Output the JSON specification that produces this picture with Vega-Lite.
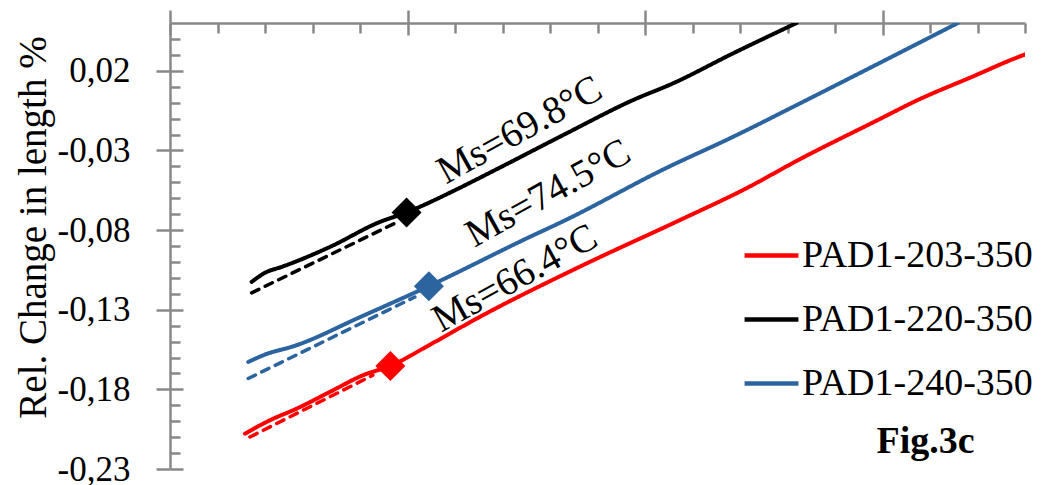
{
  "$schema": "https://vega.github.io/schema/vega-lite/v6.json",
  "width": 855,
  "height": 446,
  "autosize": {"type": "none"},
  "padding": {"left": 170, "top": 23, "right": 18, "bottom": 16},
  "background": "white",
  "config": {
    "font": "Liberation Serif",
    "view": {"stroke": null},
    "axis": {"domainColor": "#898989", "tickColor": "#898989", "domainWidth": 2.5, "tickWidth": 2.5, "grid": false}
  },
  "datasets": {
    "lines": [
      {"series": "PAD1-220-350", "kind": "solid", "t": 37.19, "v": -0.1125},
      {"series": "PAD1-220-350", "kind": "solid", "t": 40.35, "v": -0.1063},
      {"series": "PAD1-220-350", "kind": "solid", "t": 43.14, "v": -0.1035},
      {"series": "PAD1-220-350", "kind": "solid", "t": 53.66, "v": -0.0906},
      {"series": "PAD1-220-350", "kind": "solid", "t": 64.18, "v": -0.0749},
      {"series": "PAD1-220-350", "kind": "solid", "t": 69.8, "v": -0.069},
      {"series": "PAD1-220-350", "kind": "solid", "t": 72.6, "v": -0.0654},
      {"series": "PAD1-220-350", "kind": "solid", "t": 81.0, "v": -0.0535},
      {"series": "PAD1-220-350", "kind": "solid", "t": 89.43, "v": -0.0408},
      {"series": "PAD1-220-350", "kind": "solid", "t": 103.46, "v": -0.0193},
      {"series": "PAD1-220-350", "kind": "solid", "t": 117.47, "v": 0.0016},
      {"series": "PAD1-220-350", "kind": "solid", "t": 125.89, "v": 0.0121},
      {"series": "PAD1-220-350", "kind": "solid", "t": 138.51, "v": 0.0309},
      {"series": "PAD1-220-350", "kind": "solid", "t": 151.92, "v": 0.05},
      {"series": "PAD1-220-350", "kind": "dashed", "t": 37.19, "v": -0.1194},
      {"series": "PAD1-220-350", "kind": "dashed", "t": 67.5, "v": -0.0755},
      {"series": "PAD1-240-350", "kind": "solid", "t": 36.47, "v": -0.1628},
      {"series": "PAD1-240-350", "kind": "solid", "t": 39.63, "v": -0.1586},
      {"series": "PAD1-240-350", "kind": "solid", "t": 46.66, "v": -0.1523},
      {"series": "PAD1-240-350", "kind": "solid", "t": 59.97, "v": -0.1347},
      {"series": "PAD1-240-350", "kind": "solid", "t": 74.49, "v": -0.1152},
      {"series": "PAD1-240-350", "kind": "solid", "t": 95.74, "v": -0.0843},
      {"series": "PAD1-240-350", "kind": "solid", "t": 102.75, "v": -0.0745},
      {"series": "PAD1-240-350", "kind": "solid", "t": 124.5, "v": -0.0410},
      {"series": "PAD1-240-350", "kind": "solid", "t": 138.51, "v": -0.0215},
      {"series": "PAD1-240-350", "kind": "solid", "t": 152.93, "v": 0.0},
      {"series": "PAD1-240-350", "kind": "solid", "t": 169.0, "v": 0.0243},
      {"series": "PAD1-240-350", "kind": "solid", "t": 185.87, "v": 0.05},
      {"series": "PAD1-240-350", "kind": "dashed", "t": 36.47, "v": -0.1732},
      {"series": "PAD1-240-350", "kind": "dashed", "t": 71.55, "v": -0.122},
      {"series": "PAD1-203-350", "kind": "solid", "t": 35.78, "v": -0.2078},
      {"series": "PAD1-203-350", "kind": "solid", "t": 41.04, "v": -0.1994},
      {"series": "PAD1-203-350", "kind": "solid", "t": 46.66, "v": -0.1921},
      {"series": "PAD1-203-350", "kind": "solid", "t": 53.66, "v": -0.1816},
      {"series": "PAD1-203-350", "kind": "solid", "t": 60.67, "v": -0.1711},
      {"series": "PAD1-203-350", "kind": "solid", "t": 66.39, "v": -0.1653},
      {"series": "PAD1-203-350", "kind": "solid", "t": 74.7, "v": -0.1520},
      {"series": "PAD1-203-350", "kind": "solid", "t": 85.22, "v": -0.1345},
      {"series": "PAD1-203-350", "kind": "solid", "t": 106.26, "v": -0.1030},
      {"series": "PAD1-203-350", "kind": "solid", "t": 127.3, "v": -0.0738},
      {"series": "PAD1-203-350", "kind": "solid", "t": 140.87, "v": -0.0545},
      {"series": "PAD1-203-350", "kind": "solid", "t": 152.93, "v": -0.0350},
      {"series": "PAD1-203-350", "kind": "solid", "t": 168.96, "v": -0.0110},
      {"series": "PAD1-203-350", "kind": "solid", "t": 177.04, "v": 0.0011},
      {"series": "PAD1-203-350", "kind": "solid", "t": 189.07, "v": 0.0165},
      {"series": "PAD1-203-350", "kind": "solid", "t": 198.56, "v": 0.0286},
      {"series": "PAD1-203-350", "kind": "solid", "t": 200, "v": 0.0302},
      {"series": "PAD1-203-350", "kind": "dashed", "t": 36.83, "v": -0.2099},
      {"series": "PAD1-203-350", "kind": "dashed", "t": 62.71, "v": -0.1711}
    ],
    "markers": [
      {"series": "PAD1-203-350", "t": 66.4, "v": -0.1653},
      {"series": "PAD1-220-350", "t": 69.8, "v": -0.069},
      {"series": "PAD1-240-350", "t": 74.5, "v": -0.1152}
    ],
    "notes": [
      {"label": "Ms=69.8°C", "t": 93.6, "v": -0.0172},
      {"label": "Ms=74.5°C", "t": 99.6, "v": -0.0568},
      {"label": "Ms=66.4°C", "t": 92.6, "v": -0.1102}
    ],
    "fig": [
      {"label": "Fig.3c", "t": 179.06, "v": -0.2201}
    ]
  },
  "resolve": {"axis": {"x": "independent", "y": "independent"}, "legend": {"color": "independent"}},
  "layer": [
    {
      "data": {"name": "lines"},
      "mark": {"type": "line", "strokeCap": "round", "strokeJoin": "round", "clip": true, "interpolate": "monotone"},
      "encoding": {
        "x": {"field": "t", "type": "quantitative", "scale": {"domain": [20, 200], "nice": false, "zero": false},
              "axis": {"orient": "top", "values": [20, 70, 120, 170], "tickSize": 13, "labels": false, "title": null}},
        "y": {"field": "v", "type": "quantitative", "scale": {"domain": [-0.23, 0.05], "nice": false, "zero": false},
              "axis": {"orient": "left", "values": [-0.23, -0.18, -0.13, -0.08, -0.03, 0.02], "tickSize": 14,
                       "labelExpr": "(datum.value < 0 ? '-' : '') + replace(format(abs(datum.value), '.2f'), '.', ',')",
                       "labelFontSize": 35, "labelColor": "black", "labelPadding": 26, "labelFont": "Liberation Serif",
                       "title": "Rel. Change in length %", "titleFontSize": 39, "titleFontWeight": "normal", "titleColor": "black",
                       "titleFont": "Liberation Serif", "titleAngle": -90, "titleX": -125, "titleY": 204, "titleAlign": "center", "titleBaseline": "alphabetic"}},
        "color": {"field": "series", "type": "nominal",
                  "scale": {"domain": ["PAD1-203-350", "PAD1-220-350", "PAD1-240-350"], "range": ["#ff0000", "#000000", "#2c64a0"]},
                  "legend": {"orient": "none", "legendX": 572, "legendY": 203, "title": null, "labelFontSize": 38, "labelFont": "Liberation Serif",
                             "labelColor": "black", "labelLimit": 0, "symbolType": "stroke", "symbolSize": 2900, "symbolStrokeWidth": 4.5, "labelOffset": 1, "padding": 0, "rowPadding": 15}},
        "strokeDash": {"field": "kind", "type": "nominal", "scale": {"domain": ["solid", "dashed"], "range": [[1, 0], [8, 7]]}, "legend": null},
        "size": {"field": "kind", "type": "nominal", "scale": {"domain": ["solid", "dashed"], "range": [4, 3.5]}, "legend": null}
      }
    },
    {
      "data": {"name": "markers"},
      "mark": {"type": "point", "shape": "diamond", "filled": true, "size": 900, "opacity": 1},
      "encoding": {
        "x": {"field": "t", "type": "quantitative", "axis": {"orient": "top", "values": [20, 70, 120, 170], "tickSize": -12, "labels": false, "domain": false, "title": null}},
        "y": {"field": "v", "type": "quantitative", "axis": {"orient": "left", "values": [-0.23, -0.18, -0.13, -0.08, -0.03, 0.02], "tickSize": -13, "labels": false, "domain": false, "title": null}},
        "color": {"field": "series", "type": "nominal", "legend": null}
      }
    },
    {
      "data": {"name": "notes"},
      "mark": {"type": "text", "fontSize": 39, "font": "Liberation Serif", "angle": 331, "align": "center", "baseline": "middle", "color": "black"},
      "encoding": {
        "x": {"field": "t", "type": "quantitative", "axis": {"orient": "top", "values": [30, 40, 50, 60, 80, 90, 100, 110, 130, 140, 150, 160, 180, 190, 200], "tickSize": -10, "labels": false, "domain": false, "title": null}},
        "y": {"field": "v", "type": "quantitative", "axis": {"orient": "left", "values": [-0.22, -0.21, -0.2, -0.19, -0.17, -0.16, -0.15, -0.14, -0.12, -0.11, -0.1, -0.09, -0.07, -0.06, -0.05, -0.04, -0.02, -0.01, 0, 0.01, 0.03, 0.04], "tickSize": -10, "labels": false, "domain": false, "title": null}},
        "text": {"field": "label", "type": "nominal"}
      }
    },
    {
      "data": {"name": "fig"},
      "mark": {"type": "text", "fontSize": 38, "font": "Liberation Serif", "fontWeight": "bold", "align": "center", "baseline": "alphabetic", "color": "black"},
      "encoding": {
        "x": {"field": "t", "type": "quantitative", "axis": null},
        "y": {"field": "v", "type": "quantitative", "axis": null},
        "text": {"field": "label", "type": "nominal"}
      }
    }
  ]
}
